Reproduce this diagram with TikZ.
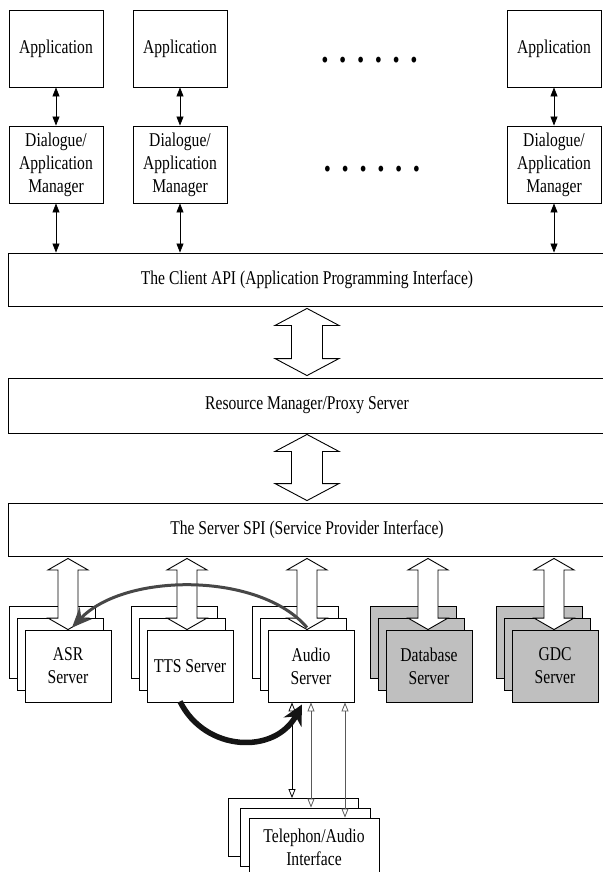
\documentclass[tikz,border=0pt]{standalone}
\usepackage{fontspec}
\setmainfont[FakeStretch=0.8]{Liberation Serif}
\usetikzlibrary{arrows.meta,calc}
\newcommand\hollow[5]{%
  \draw[line width=0.9pt, fill=white] let \p1=(#1), \p2=(#2) in
    (\x1,\y1) -- (\x1+#3,\y1-#5) -- (\x1+#4,\y1-#5) -- (\x1+#4,\y2+#5) -- (\x1+#3,\y2+#5)
    -- (\x1,\y2) -- (\x1-#3,\y2+#5) -- (\x1-#4,\y2+#5) -- (\x1-#4,\y1-#5) -- (\x1-#3,\y1-#5) -- cycle;}
\begin{document}
\begin{tikzpicture}[x=1pt,y=-1pt,
  lbl/.style={font=\fontsize{19.5}{23}\selectfont, align=center},
  box/.style={draw, line width=0.9pt, fill=white, inner sep=0pt, lbl},
  appbox/.style={box, minimum width=94pt, minimum height=77pt},
  widebox/.style={box, minimum width=598pt},
  srv/.style={box, minimum width=86pt, minimum height=72pt},
  gsrv/.style={srv, fill=black!25},
  telbox/.style={box, minimum width=130pt, minimum height=58pt},
  tarr/.style={line width=0.8pt, {Triangle[length=9pt,width=7pt]}-{Triangle[length=9pt,width=7pt]}},
  oarr/.style={line width=0.8pt, {Triangle[open,length=9pt,width=7pt]}-{Triangle[open,length=9pt,width=7pt]}},
  dotrow/.style={font=\fontsize{36}{36}\bfseries\selectfont, inner sep=0pt, anchor=base}]
\useasboundingbox (0,0) rectangle (602,872);

% top applications
\node[appbox] (app1) at (56,48.5) {Application};
\node[appbox] (app2) at (180,48.5) {Application};
\node[appbox] (app3) at (554,48.5) {Application};
\node[appbox] (dm1) at (56,164.5) {Dialogue/\\Application\\Manager};
\node[appbox] (dm2) at (180,164.5) {Dialogue/\\Application\\Manager};
\node[appbox] (dm3) at (554,164.5) {Dialogue/\\Application\\Manager};
\node[dotrow] (dots1) at (369.5,62.5) {.\hspace{10.6pt}.\hspace{10.6pt}.\hspace{10.6pt}.\hspace{10.6pt}.\hspace{10.6pt}.};
\node[dotrow] (dots2) at (372,171.5) {.\hspace{10.6pt}.\hspace{10.6pt}.\hspace{10.6pt}.\hspace{10.6pt}.\hspace{10.6pt}.};

% layers
\node[widebox, minimum height=53pt] (api) at (307,279.5) {The Client API (Application Programming Interface)};
\node[widebox, minimum height=55pt] (rm) at (307,405.5) {Resource Manager/Proxy Server};
\node[widebox, minimum height=53pt] (spi) at (307,529.5) {The Server SPI (Service Provider Interface)};

\foreach \i in {1,2,3} {
  \draw[tarr] (app\i) -- (dm\i);
  \draw[tarr] (dm\i.south) -- (dm\i.south |- api.north);
}

\hollow{[yshift=-2pt]api.south}{[yshift=2pt]rm.north}{32pt}{15.5pt}{17pt}
\hollow{[yshift=-1pt]rm.south}{[yshift=2pt]spi.north}{32pt}{15.5pt}{17pt}

% server stacks
\foreach \k/\c/\s in {asr/68/srv, tts/190/srv, aud/311/srv, db/429/gsrv, gdc/555/gsrv} {
  \node[\s] (\k b) at (\c-16,642.5) {};
  \node[\s] (\k m) at (\c-8,654.5) {};
}
\node[srv] (asr) at (68,666) {ASR\\Server};
\node[srv] (tts) at (190,666) {TTS Server};
\node[srv] (aud) at (311,666) {Audio\\Server};
\node[gsrv] (db) at (429,666) {Database\\Server};
\node[gsrv] (gdc) at (555,666) {GDC\\Server};

\coordinate (spib) at ($(spi.south)+(0,2)$);
\coordinate (xasr) at (68,0);
\coordinate (xtts) at (187,0);
\coordinate (xaud) at (307,0);
\coordinate (xdb) at (428,0);
\coordinate (xgdc) at (554,0);
\hollow{spib -| xasr}{asr.north -| xasr}{20pt}{10pt}{11.5pt}
\hollow{spib -| xtts}{tts.north -| xtts}{20pt}{10pt}{11.5pt}
\hollow{spib -| xaud}{aud.north -| xaud}{20pt}{10pt}{11.5pt}
\hollow{spib -| xdb}{db.north -| xdb}{20pt}{10pt}{11.5pt}
\hollow{spib -| xgdc}{gdc.north -| xgdc}{20pt}{10pt}{11.5pt}

% telephony interface
\node[telbox] (telb) at (293,827.5) {};
\node[telbox] (telm) at (305,837) {};
\node[telbox] (tel) at (314,847) {Telephon/Audio\\Interface};
\coordinate (l1) at (292,0);
\coordinate (l2) at (311,0);
\coordinate (l3) at (345,0);
\draw[oarr] (aud.south -| l1) -- (telb.north -| l1);
\draw[oarr, draw=black!65] (aud.south -| l2) -- (telm.north -| l2);
\draw[oarr, draw=black!65] (aud.south -| l3) -- (tel.north -| l3);

% curved arrows
\draw[line width=3pt, draw=black!72, -{Stealth[length=20pt,width=17pt]}]
  ($(aud.north)+(-4,-2)$) .. controls (260,572) and (125,572) .. ($(asr.north)+(4,-2)$);
\draw[line width=5.5pt, draw=black!92, -{Stealth[length=20pt,width=20pt]}]
  ($(tts.south)+(-10,-1)$) .. controls (205,752) and (275,755) .. ($(aud.south)+(-9,2)$);
\end{tikzpicture}
\end{document}
